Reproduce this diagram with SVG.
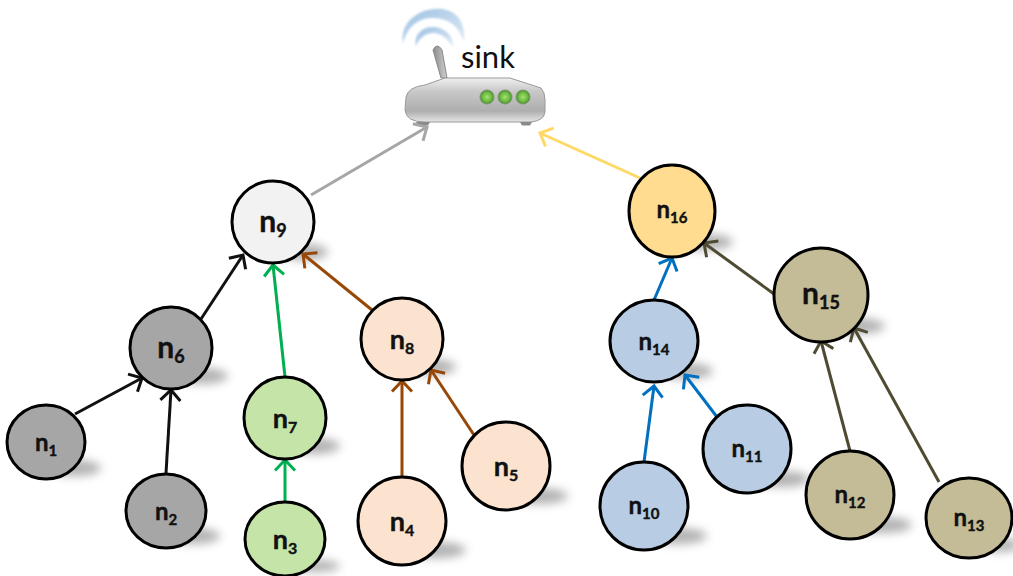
<svg xmlns="http://www.w3.org/2000/svg" width="1013" height="576" viewBox="0 0 1013 576">
<style>
text{font-family:Lato,"Open Sans","Liberation Sans",sans-serif;fill:#111}
.l{font-weight:700;text-anchor:middle;stroke:#111;stroke-width:.4}
.a{font-size:30px}.a tspan{font-size:18px}
.m{font-size:27px}.m tspan{font-size:16px}
.t{font-size:24px}.t tspan{font-size:15px}
.n{stroke:#000;stroke-width:3}
.s{fill:#666;opacity:.5;filter:url(#b)}
.c{fill:none;stroke-width:3;stroke-linecap:butt}
.gy{fill:#a6a6a6}.gn{fill:#c5e4a8}.or{fill:#fce3cf}.bl{fill:#b8cce4}.kh{fill:#c4bc96}
</style>
<defs>
<filter id="b" x="-50%" y="-120%" width="200%" height="340%"><feGaussianBlur stdDeviation="5"/></filter>
<filter id="b2" x="-20%" y="-20%" width="140%" height="140%"><feGaussianBlur stdDeviation="0.8"/></filter>
<linearGradient id="body" x1="0" y1="0" x2="0" y2="1"><stop offset="0" stop-color="#f0f0f0"/><stop offset=".3" stop-color="#c8c8c8"/><stop offset=".75" stop-color="#aeaeae"/><stop offset="1" stop-color="#e6e6e6"/></linearGradient>
<linearGradient id="ant" x1="0" y1="0" x2="1" y2="0"><stop offset="0" stop-color="#8a8a8a"/><stop offset="1" stop-color="#d0d0d0"/></linearGradient>
<linearGradient id="wave" x1="0" y1="0" x2="1" y2="1"><stop offset="0" stop-color="#9dc0e2"/><stop offset="1" stop-color="#e0ecf6"/></linearGradient>
<radialGradient id="led"><stop offset="0" stop-color="#a5e070"/><stop offset=".7" stop-color="#66b83c"/><stop offset="1" stop-color="#4c7f3c"/></radialGradient>
<marker id="a1" markerUnits="userSpaceOnUse" markerWidth="24" markerHeight="24" refX="18" refY="12" orient="auto"><path d="M7.500 2L18 12L7.500 22" fill="none" stroke="context-stroke" stroke-width="3"/></marker>
</defs>
<g id="shadows">
<ellipse class="s" cx="304" cy="252" rx="24" ry="8"/>
<ellipse class="s" cx="202" cy="376" rx="26" ry="8"/>
<ellipse class="s" cx="75" cy="468" rx="26" ry="8"/>
<ellipse class="s" cx="194" cy="536" rx="26" ry="8"/>
<ellipse class="s" cx="314" cy="446" rx="26" ry="8"/>
<ellipse class="s" cx="430" cy="367" rx="26" ry="8"/>
<ellipse class="s" cx="436" cy="550" rx="30" ry="8"/>
<ellipse class="s" cx="538" cy="496" rx="30" ry="8"/>
<ellipse class="s" cx="705" cy="242" rx="28" ry="8"/>
<ellipse class="s" cx="685" cy="371" rx="28" ry="8"/>
<ellipse class="s" cx="855" cy="326" rx="30" ry="8"/>
<ellipse class="s" cx="677" cy="536" rx="30" ry="8"/>
<ellipse class="s" cx="780" cy="479" rx="30" ry="8"/>
<ellipse class="s" cx="882" cy="525" rx="30" ry="8"/>
<ellipse class="s" cx="1000" cy="545" rx="20" ry="7"/>
<ellipse class="s" cx="316" cy="566" rx="24" ry="6"/>
</g>
<g id="sink">
<path d="M403 44C399 22 420 7 442 9C458 11 466 24 464 42C459 26 448 17 431 18C415 19 406 30 403 44Z" fill="url(#wave)" filter="url(#b2)"/>
<path d="M416 46C413 35 423 26 434 27C446 28 454 37 453 47C447 38 441 33 433 33C425 33 419 39 416 46Z" fill="url(#wave)" filter="url(#b2)"/>
<path d="M433 50L441 78L447 78L442 50Q437 42 433 50Z" fill="url(#ant)" stroke="#888"/>
<path d="M406 97Q408 87 425 85L445 78L510 78L541 88Q545 92 545 100L545 112Q544 121 530 122L425 122Q406 122 405 110Z" fill="url(#body)" stroke="#999"/>
<path d="M416 122H430L428 125.500H418Z" fill="#8a8a8a"/>
<path d="M520 122H532L530 125.500H522Z" fill="#8a8a8a"/>
<circle cx="487" cy="97" r="7" fill="url(#led)" stroke="#7b9a68"/>
<circle cx="505" cy="97" r="7" fill="url(#led)" stroke="#7b9a68"/>
<circle cx="523" cy="97" r="7" fill="url(#led)" stroke="#7b9a68"/>
<text x="461" y="68" font-size="31">sink</text>
</g>
<g id="connectors">
<path class="c" stroke="#a6a6a6" marker-end="url(#a1)" d="M311 195L427 127"/>
<path class="c" stroke="#ffd966" marker-end="url(#a1)" d="M640 178L540 133"/>
<path class="c" stroke="#111" marker-end="url(#a1)" d="M201 319L243 255"/>
<path class="c" stroke="#111" marker-end="url(#a1)" d="M75 414L142 378"/>
<path class="c" stroke="#111" marker-end="url(#a1)" d="M166 473L171 390"/>
<path class="c" stroke="#00b050" marker-end="url(#a1)" d="M285 377L273 265"/>
<path class="c" stroke="#00b050" marker-end="url(#a1)" d="M285 501L285 460"/>
<path class="c" stroke="#984806" marker-end="url(#a1)" d="M372 310L303 254"/>
<path class="c" stroke="#984806" marker-end="url(#a1)" d="M402 477L402 381"/>
<path class="c" stroke="#984806" marker-end="url(#a1)" d="M474 435L431 370"/>
<path class="c" stroke="#0070c0" marker-end="url(#a1)" d="M654 300L672 258"/>
<path class="c" stroke="#0070c0" marker-end="url(#a1)" d="M644 462L654 386"/>
<path class="c" stroke="#0070c0" marker-end="url(#a1)" d="M717 417L685 375"/>
<path class="c" stroke="#4f4b32" marker-end="url(#a1)" d="M774 294L704 243"/>
<path class="c" stroke="#4f4b32" marker-end="url(#a1)" d="M850 451L821 341"/>
<path class="c" stroke="#4f4b32" marker-end="url(#a1)" d="M939 482L854 328"/>
</g>
<g id="n1"><ellipse class="n gy" cx="46" cy="442" rx="39" ry="37"/><text class="l t" x="46" y="451">n<tspan dy="5">1</tspan></text></g>
<g id="n2"><ellipse class="n gy" cx="166" cy="511" rx="40" ry="37"/><text class="l t" x="166" y="520">n<tspan dy="5">2</tspan></text></g>
<g id="n3"><ellipse class="n gn" cx="285" cy="539" rx="40" ry="37"/><text class="l m" x="285" y="549">n<tspan dy="5">3</tspan></text></g>
<g id="n4"><ellipse class="n or" cx="402" cy="521" rx="44" ry="44"/><text class="l m" x="402" y="531">n<tspan dy="5">4</tspan></text></g>
<g id="n5"><ellipse class="n or" cx="506" cy="466" rx="44" ry="44"/><text class="l m" x="506" y="476">n<tspan dy="5">5</tspan></text></g>
<g id="n6"><ellipse class="n gy" cx="171" cy="348" rx="41" ry="41"/><text class="l a" x="171" y="358">n<tspan dy="5">6</tspan></text></g>
<g id="n7"><ellipse class="n gn" cx="285" cy="418" rx="41" ry="41"/><text class="l m" x="285" y="428">n<tspan dy="5">7</tspan></text></g>
<g id="n8"><ellipse class="n or" cx="402" cy="339" rx="41" ry="41"/><text class="l m" x="402" y="349">n<tspan dy="5">8</tspan></text></g>
<g id="n9"><ellipse class="n" fill="#f2f2f2" cx="273" cy="222" rx="41" ry="41"/><text class="l a" x="273" y="232">n<tspan dy="5">9</tspan></text></g>
<g id="n10"><ellipse class="n bl" cx="644" cy="506" rx="44" ry="44"/><text class="l t" x="644" y="514">n<tspan dy="5">10</tspan></text></g>
<g id="n11"><ellipse class="n bl" cx="747" cy="449" rx="44" ry="44"/><text class="l t" x="747" y="457">n<tspan dy="5">11</tspan></text></g>
<g id="n12"><ellipse class="n kh" cx="850" cy="495" rx="44" ry="44"/><text class="l t" x="850" y="503">n<tspan dy="5">12</tspan></text></g>
<g id="n13"><ellipse class="n kh" cx="969" cy="518" rx="43" ry="40"/><text class="l t" x="969" y="526">n<tspan dy="5">13</tspan></text></g>
<g id="n14"><ellipse class="n bl" cx="654" cy="341" rx="44" ry="41"/><text class="l t" x="654" y="350">n<tspan dy="5">14</tspan></text></g>
<g id="n15"><ellipse class="n kh" cx="821" cy="295" rx="47" ry="47"/><text class="l a" x="821" y="304">n<tspan dy="5">15</tspan></text></g>
<g id="n16"><ellipse class="n" fill="#ffdc8f" cx="672" cy="211" rx="43" ry="46"/><text class="l t" x="672" y="218">n<tspan dy="5">16</tspan></text></g>
</svg>
